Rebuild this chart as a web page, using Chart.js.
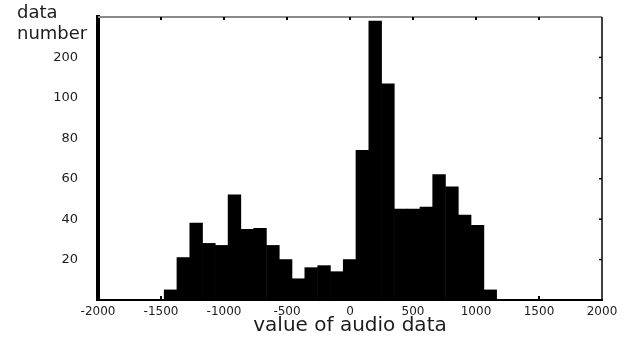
<!DOCTYPE html>
<html>
<head>
<meta charset="utf-8">
<script src="https://cdn.jsdelivr.net/npm/chart.js@4.4.1/dist/chart.umd.min.js"></script>
<style>
  html, body { margin: 0; padding: 0; background: #fff; }
  #wrap { width: 626px; height: 340px; }
</style>
</head>
<body>
<div id="wrap"><canvas id="histChart" width="626" height="340"></canvas></div>
<script>
// ====== DATA ======
const binCenters = [-1424, -1323, -1221, -1120, -1018, -917, -815, -714, -612, -511,
                    -409, -308, -206, -105, -3, 98, 200, 301, 403, 504,
                    606, 707, 809, 910, 1012, 1113];
const counts     = [5, 21, 38, 28, 27, 52, 35, 35.5, 27, 20,
                    10.5, 16, 17, 14, 20, 74, 138, 107, 45, 45,
                    46, 62, 56, 42, 37, 5];
const xTicks      = [-2000, -1500, -1000, -500, 0, 500, 1000, 1500, 2000];
const yTickValues = [20, 40, 60, 80, 100, 120];
const yTickLabels = ['20', '40', '60', '80', '100', '200'];
const xTitle = 'value of audio data';
const yTitle = ['data', 'number'];

const INK = '#1c1c1c';

// ====== FRAME PLUGIN (top/right axes + small ticks + y title) ======
const framePlugin = {
  id: 'frame',
  afterDraw(chart) {
    const { ctx, chartArea: a, scales: { x, y } } = chart;
    ctx.save();
    // top axis (grey)
    ctx.strokeStyle = '#8a8a8a';
    ctx.lineWidth = 2;
    ctx.beginPath();
    ctx.moveTo(a.left, a.top);
    ctx.lineTo(a.right, a.top);
    ctx.stroke();
    // right axis
    ctx.strokeStyle = '#000';
    ctx.lineWidth = 1.5;
    ctx.beginPath();
    ctx.moveTo(a.right, a.top);
    ctx.lineTo(a.right, a.bottom);
    ctx.stroke();
    // small tick marks
    ctx.lineWidth = 2;
    xTicks.slice(1, -1).forEach(v => {
      const px = x.getPixelForValue(v);
      ctx.beginPath();
      ctx.moveTo(px, a.top);
      ctx.lineTo(px, a.top + 3);
      ctx.moveTo(px, a.bottom);
      ctx.lineTo(px, a.bottom - 4);
      ctx.stroke();
    });
    ctx.lineWidth = 1.5;
    yTickValues.forEach(v => {
      const py = y.getPixelForValue(v);
      ctx.beginPath();
      ctx.moveTo(a.right, py);
      ctx.lineTo(a.right - 3, py);
      ctx.stroke();
    });
    // y title top-left
    ctx.fillStyle = INK;
    ctx.font = '18px "DejaVu Sans"';
    ctx.textAlign = 'left';
    ctx.textBaseline = 'alphabetic';
    ctx.fillText(yTitle[0], 17, 18);
    ctx.fillText(yTitle[1], 17, 39);
    ctx.restore();
  }
};

// ====== CHART ======
new Chart(document.getElementById('histChart'), {
  type: 'bar',
  data: {
    datasets: [{
      data: binCenters.map((c, i) => ({ x: c, y: counts[i] })),
      backgroundColor: '#000',
      borderWidth: 0,
      barPercentage: 1.0,
      categoryPercentage: 1.0
    }]
  },
  plugins: [framePlugin],
  options: {
    responsive: false,
    animation: false,
    layout: { padding: { left: 0, right: 24, top: 17, bottom: 0 } },
    plugins: { legend: { display: false }, tooltip: { enabled: false } },
    scales: {
      x: {
        type: 'linear',
        min: -2000, max: 2000,
        offset: false,
        afterBuildTicks: s => { s.ticks = xTicks.map(v => ({ value: v })); },
        afterFit: s => { s.height = 40; },
        grid: { display: false, drawTicks: false },
        border: { display: true, color: '#000', width: 2 },
        ticks: {
          padding: 5,
          color: INK,
          maxRotation: 0,
          autoSkip: false,
          font: { family: 'DejaVu Sans', size: 12 },
          callback: v => String(v)
        },
        title: {
          display: true,
          text: xTitle,
          color: INK,
          font: { family: 'DejaVu Sans', size: 20 },
          padding: { top: 0, bottom: 2 }
        }
      },
      y: {
        min: 0, max: 140,
        afterBuildTicks: s => { s.ticks = yTickValues.map(v => ({ value: v })); },
        afterFit: s => { s.width = 98; s.paddingTop = 0; s.paddingBottom = 0; },
        grid: { display: false, drawTicks: false },
        border: { display: true, color: '#000', width: 4 },
        ticks: {
          padding: 20,
          color: INK,
          font: { family: 'DejaVu Sans', size: 13 },
          callback: v => yTickLabels[yTickValues.indexOf(v)] ?? ''
        }
      }
    }
  }
});
</script>
</body>
</html>
